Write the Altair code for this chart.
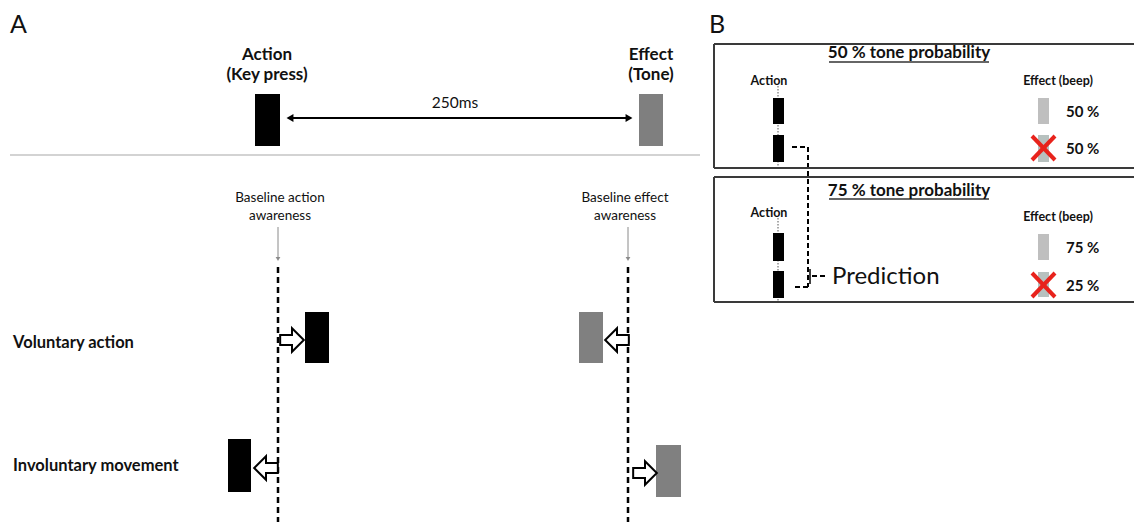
import altair as alt
import pandas as pd

# ---------------- data (diagram in image-pixel units) ----------------
text_label = ["A", "B",
              "Action", "(Key press)", "Effect", "(Tone)",
              "50 % tone probability", "75 % tone probability",
              "Voluntary action", "Involuntary movement",
              "50 %", "50 %", "75 %", "25 %",
              "250ms",
              "Baseline action", "awareness", "Baseline effect", "awareness",
              "Action", "Action", "Effect (beep)", "Effect (beep)",
              "Prediction"]
text_x = [10, 709, 267, 267, 651, 651, 909, 909, 13, 13,
          1066, 1066, 1066, 1066, 455, 280, 280, 625, 625,
          769, 769, 1058, 1058, 832]
text_y = [25, 25, 55, 75, 55, 75, 53, 191, 343, 466,
          112, 149, 248, 286, 103, 198, 216, 198, 216,
          81, 213, 81, 217, 277]
text_style = ["panel", "panel", "bold_c", "bold_c", "bold_c", "bold_c",
              "bold_c", "bold_c", "row_l", "row_l",
              "pct_l", "pct_l", "pct_l", "pct_l", "plain_c",
              "small_c", "small_c", "small_c", "small_c",
              "tiny_c", "tiny_c", "tiny_c", "tiny_c", "big_l"]

# bars (key press / tone stimuli)
bar_x = [255, 639, 305, 579, 228, 656, 773, 773, 773, 773, 1038, 1038, 1038, 1038]
bar_x2 = [280, 663, 329, 603, 251, 681, 784, 784, 784, 784, 1049, 1049, 1049, 1049]
bar_y = [94, 94, 312, 312, 439, 445, 98, 135, 233, 271, 98, 135, 234, 272]
bar_y2 = [146, 146, 363, 363, 492, 497, 124, 162, 261, 298, 124, 162, 260, 297]
bar_color = ["#000000", "#7f7f7f", "#000000", "#808080", "#000000", "#808080",
             "#000000", "#000000", "#000000", "#000000",
             "#bfbfbf", "#b7c1bf", "#bfbfbf", "#b7c1bf"]

# solid lines
line_x = [10, 288, 278, 628, 829, 829, 714, 714, 714, 714, 714, 714, 810,
          1032, 1055, 1032, 1055]
line_x2 = [700, 631, 278, 628, 989, 989, 1142, 1142, 714, 1142, 1142, 714, 810,
           1055, 1032, 1055, 1032]
line_y = [155, 118, 227, 227, 62, 199, 44, 168, 44, 177, 302, 177, 269,
          136, 136, 273, 273]
line_y2 = [155, 118, 257, 257, 62, 199, 44, 168, 168, 177, 302, 302, 284,
           160, 160, 297, 297]
line_color = ["#d3d3d3", "#000000", "#8a8a8a", "#8a8a8a", "#333333", "#333333",
              "#3a3a3a", "#3a3a3a", "#3a3a3a", "#3a3a3a", "#3a3a3a", "#3a3a3a",
              "#000000", "#e8231c", "#e8231c", "#e8231c", "#e8231c"]
line_width = [2, 2, 1, 1, 1.5, 1.5, 2, 2, 2, 2, 2, 2, 1.5, 4, 4, 4, 4]

# dashed baseline lines
base_x = [278, 628]
base_y = [267, 267]
base_y2 = [530, 530]

# dashed prediction connector
conn_x = [792, 808, 808, 812]
conn_x2 = [806, 808, 793, 826]
conn_y = [147, 147, 287, 276]
conn_y2 = [147, 287, 287, 276]

# dotted action timelines (panel B)
dot_x = [778, 778]
dot_y = [86, 218]
dot_y2 = [168, 302]

# filled arrow heads
head_x = [290, 629, 278, 628]
head_y = [118, 118, 259, 259]
head_shape = ["triangle-left", "triangle-right", "triangle-down", "triangle-down"]
head_size = [64, 64, 22, 22]
head_color = ["#000000", "#000000", "#8a8a8a", "#8a8a8a"]

# hollow shift arrows (angle 0 = right, 180 = left)
shift_x = [292, 617, 266, 645]
shift_y = [340, 340, 468, 473]
shift_angle = [0, 180, 180, 0]

# ---------------- build ----------------
texts = pd.DataFrame({"label": text_label, "x": text_x, "y": text_y, "style": text_style})
bars = pd.DataFrame({"x": bar_x, "x2": bar_x2, "y": bar_y, "y2": bar_y2, "c": bar_color})
lines = pd.DataFrame({"x": line_x, "x2": line_x2, "y": line_y, "y2": line_y2,
                      "c": line_color, "w": line_width})
base = pd.DataFrame({"x": base_x, "x2": base_x, "y": base_y, "y2": base_y2})
conn = pd.DataFrame({"x": conn_x, "x2": conn_x2, "y": conn_y, "y2": conn_y2})
dots = pd.DataFrame({"x": dot_x, "x2": dot_x, "y": dot_y, "y2": dot_y2})
heads = pd.DataFrame({"x": head_x, "y": head_y, "s": head_shape, "z": head_size, "c": head_color})
shifts = pd.DataFrame({"x": shift_x, "y": shift_y, "a": shift_angle})

xs = alt.Scale(domain=[8, 1134], nice=False, zero=False)
ys = alt.Scale(domain=[8, 522], nice=False, zero=False, reverse=True)


def X(f):
    return alt.X(f, type="quantitative", scale=xs, axis=None)


def Y(f):
    return alt.Y(f, type="quantitative", scale=ys, axis=None)


def seg_layer(df, **mark):
    return alt.Chart(df).mark_rule(**mark).encode(
        x=X("x"), x2=alt.X2("x2"), y=Y("y"), y2=alt.Y2("y2"))


FONT = "Lato"
styles = {
    "panel": dict(fontSize=25, fontWeight="normal", align="left"),
    "bold_c": dict(fontSize=17, fontWeight="bold", align="center"),
    "row_l": dict(fontSize=16.5, fontWeight="bold", align="left"),
    "pct_l": dict(fontSize=15, fontWeight="bold", align="left"),
    "plain_c": dict(fontSize=15.5, fontWeight="normal", align="center"),
    "small_c": dict(fontSize=13.5, fontWeight="normal", align="center"),
    "tiny_c": dict(fontSize=12.5, fontWeight="bold", align="center"),
    "big_l": dict(fontSize=24, fontWeight="normal", align="left"),
}

layers = []
layers.append(seg_layer(dots, color="#555555", strokeWidth=1, strokeDash=[1.5, 1.5]))
layers.append(alt.Chart(bars).mark_rect().encode(
    x=X("x"), x2=alt.X2("x2"), y=Y("y"), y2=alt.Y2("y2"),
    color=alt.Color("c:N", scale=None)))
layers.append(seg_layer(base, color="#000000", strokeWidth=2.5, strokeDash=[6, 4]))
layers.append(seg_layer(conn, color="#000000", strokeWidth=2, strokeDash=[5, 3]))
layers.append(alt.Chart(lines).mark_rule(strokeCap="butt").encode(
    x=X("x"), x2=alt.X2("x2"), y=Y("y"), y2=alt.Y2("y2"),
    color=alt.Color("c:N", scale=None),
    strokeWidth=alt.StrokeWidth("w:Q", scale=None)))
layers.append(alt.Chart(heads).mark_point(filled=True, opacity=1).encode(
    x=X("x"), y=Y("y"),
    shape=alt.Shape("s:N", scale=None),
    size=alt.Size("z:Q", scale=None),
    color=alt.Color("c:N", scale=None)))
arrow_path = "M-1,-0.42 L0,-0.42 L0,-1 L1,0 L0,1 L0,0.42 L-1,0.42 Z"
layers.append(alt.Chart(shifts).mark_point(
    shape=arrow_path, size=560, filled=False, fill="#ffffff", fillOpacity=1,
    stroke="#000000", strokeWidth=2, opacity=1).encode(
    x=X("x"), y=Y("y"), angle=alt.Angle("a:Q", scale=None)))
for name, st in styles.items():
    layers.append(alt.Chart(texts).transform_filter(alt.datum.style == name).mark_text(
        baseline="middle", font=FONT, color="#111111", **st).encode(
        x=X("x"), y=Y("y"), text="label:N"))

chart = alt.layer(*layers).properties(
    width=1126, height=514, padding=0,
    autosize=alt.AutoSizeParams(type="none"),
    background="#ffffff",
).configure_view(stroke=None)

chart.save("out.html", embed_options={"renderer": "svg", "actions": False})
